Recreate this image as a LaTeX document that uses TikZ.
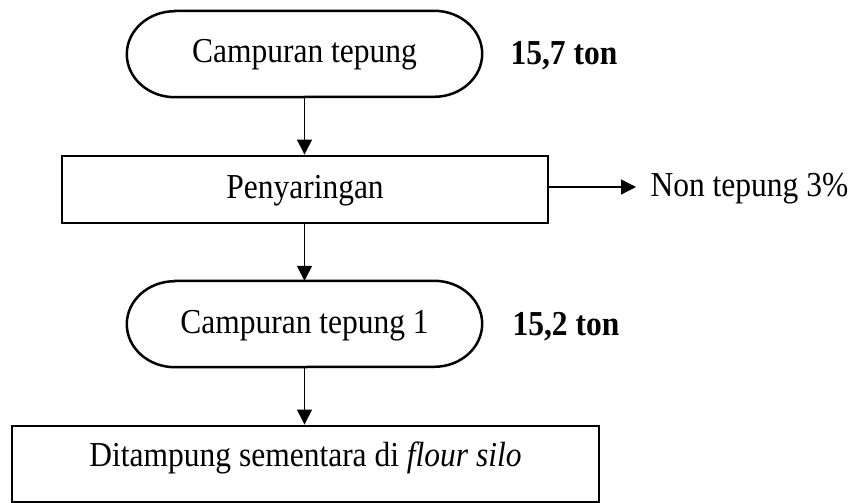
\documentclass[tikz,border=0pt]{standalone}
\usepackage{fontspec}
\setmainfont[FakeStretch=0.9]{Liberation Serif}
\usetikzlibrary{arrows.meta}
\begin{document}
\begin{tikzpicture}[x=1pt,y=-1pt,
  every node/.style={font=\fontsize{35}{40}\selectfont},
  box/.style={draw, line width=2.9pt, inner sep=0pt, text height=22pt, text depth=4pt},
  term/.style={inner sep=0pt, minimum width=355pt, minimum height=86pt, text height=22pt, text depth=4pt},
  conn/.style={line width=1.3pt, -{Triangle[length=15pt,width=15pt]}},
  outl/.style={line width=2.5pt},
  val/.style={anchor=base west, font=\fontsize{35}{40}\bfseries\selectfont},
  lbl/.style={anchor=base west}
]
\useasboundingbox (0,0) rectangle (862,503);
\newcommand\termoutline[1]{%
  \draw[outl] ([xshift=48pt]#1.north west) -- ([xshift=-48pt]#1.north east)
    arc[start angle=90,end angle=-90,x radius=48pt,y radius=43pt]
    -- ([xshift=48pt]#1.south west)
    arc[start angle=270,end angle=90,x radius=48pt,y radius=43pt] -- cycle;}

% terminator 1
\node[term] (t1) at (304.5,54) {Campuran tepung};
\termoutline{t1}
\node[val] (w1) at (507,64) {15,7 ton};

% process 1
\node[box, minimum width=486pt, minimum height=67pt] (r1) at (305,189.5) {Penyaringan};
\coordinate (ae) at (636,187);
\node[lbl] (nt) at (647,196) {Non tepung 3\%};

% terminator 2
\node[term] (t2) at (304.5,324) {Campuran tepung 1};
\termoutline{t2}
\node[val] (w2) at (509,335) {15,2 ton};

% process 2
\node[box, minimum width=587pt, minimum height=76pt, text height=22pt, text depth=18pt] (r2) at (305.5,464) {Ditampung sementara di \textit{flour silo}};

% connectors
\draw[conn] (t1.south) -- (t1.south |- r1.north);
\draw[conn] (r1.east |- ae) -- (ae);
\draw[conn] (t1.south |- r1.south) -- (t2.north);
\draw[conn] (t2.south) -- (t2.south |- r2.north);
\end{tikzpicture}
\end{document}
